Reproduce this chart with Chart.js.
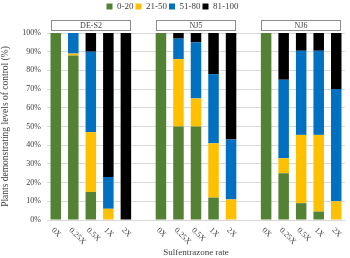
<!DOCTYPE html>
<html>
<head>
<meta charset="utf-8">
<script src="https://cdn.jsdelivr.net/npm/chart.js@4.4.1/dist/chart.umd.min.js"></script>
<style>
    html, body { margin: 0; padding: 0; background: #fff; }
    #wrap { width: 350px; height: 258px; position: relative; }
</style>
</head>
<body>
<div id="wrap"><canvas id="chart"></canvas></div>
<script>
// Data
const isolates = ['DE-S2', 'NJ5', 'NJ6'];
const rates = ['0X', '0.25X', '0.5X', '1X', '2X'];
const yTicks = [0, 10, 20, 30, 40, 50, 60, 70, 80, 90, 100];

// one row per isolate, one value per rate (% of plants)
const control0to20 = [[100, 88, 15, 0, 0], [100, 50, 50, 12, 0], [100, 25, 9, 4.5, 0]];
const control21to50 = [[0, 1, 32, 6, 0], [0, 36, 15, 29, 11], [0, 8, 36.5, 41, 10]];
const control51to80 = [[0, 11, 43, 17, 0], [0, 11, 30, 37, 32], [0, 42, 45, 45, 60]];
const control81to100 = [[0, 0, 10, 77, 100], [0, 3, 5, 22, 57], [0, 25, 9.5, 9.5, 30]];

const seriesNames = ['0-20', '21-50', '51-80', '81-100'];
const seriesColors = ['#548235', '#FFC000', '#0070C0', '#000000'];

const serif = "'Liberation Serif', 'Times New Roman', serif";
const textColor = '#404040';

// flatten panels into one category axis, with an empty slot between panels
const labels = [];
isolates.forEach((iso, p) => {
    rates.forEach((r) => labels.push(r));
    if (p < isolates.length - 1) labels.push('');
});

const flatten = (rows) => {
    const out = [];
    rows.forEach((row, p) => {
        row.forEach((v) => out.push(v));
        if (p < rows.length - 1) out.push(null);
    });
    return out;
};

const allSeries = [control0to20, control21to50, control51to80, control81to100];

const barPct = 0.6;

// leave room under the legend for the panel headers
const legendSpace = {
    id: 'legendSpace',
    beforeInit(chart) {
        const fit = chart.legend.fit;
        chart.legend.fit = function () {
            fit.call(this);
            this.height = 33;
        };
    }
};

// panel header boxes + rotated rate labels
const panelPlugin = {
    id: 'panelPlugin',
    afterDraw(chart) {
        const ctx = chart.ctx;
        const x = chart.scales.x;
        const area = chart.chartArea;
        const slot = x.getPixelForValue(1) - x.getPixelForValue(0);
        const half = slot * barPct / 2;

        ctx.save();
        ctx.font = '8px ' + serif;
        ctx.fillStyle = textColor;
        isolates.forEach((iso, p) => {
            const first = p * (rates.length + 1);
            const last = first + rates.length - 1;
            const left = Math.round(x.getPixelForValue(first) - half) + 0.5;
            const right = Math.round(x.getPixelForValue(last) + half) - 0.5;
            const top = Math.round(area.top - 13) + 0.5;
            ctx.fillStyle = '#ffffff';
            ctx.fillRect(left, top, right - left, 10);
            ctx.strokeStyle = '#8c8c8c';
            ctx.lineWidth = 1;
            ctx.strokeRect(left, top, right - left, 10);
            ctx.fillStyle = textColor;
            ctx.textAlign = 'center';
            ctx.textBaseline = 'middle';
            ctx.fillText(iso, (left + right) / 2, top + 5.5);
        });

        labels.forEach((lab, i) => {
            if (!lab) return;
            const px = x.getPixelForValue(i);
            ctx.save();
            ctx.translate(px - 3, area.bottom + 9);
            ctx.rotate(Math.PI / 4);
            ctx.textAlign = 'left';
            ctx.textBaseline = 'middle';
            ctx.fillText(lab, 0, 0);
            ctx.restore();
        });
        ctx.restore();
    }
};

new Chart(document.getElementById('chart'), {
    type: 'bar',
    data: {
        labels: labels,
        datasets: seriesNames.map((name, s) => ({
            label: name,
            data: flatten(allSeries[s]),
            backgroundColor: seriesColors[s],
            borderWidth: 0,
            barPercentage: barPct,
            categoryPercentage: 1
        }))
    },
    options: {
        responsive: true,
        maintainAspectRatio: false,
        animation: false,
        layout: { padding: { top: 0, right: 5, left: 0, bottom: 0 } },
        plugins: {
            legend: {
                position: 'top',
                labels: {
                    color: textColor,
                    font: { family: serif, size: 9 },
                    boxWidth: 6,
                    boxHeight: 6,
                    padding: 2
                }
            },
            tooltip: { enabled: false }
        },
        scales: {
            x: {
                stacked: true,
                grid: { display: false },
                border: { color: '#d9d9d9' },
                ticks: { display: false },
                title: {
                    display: true,
                    text: 'Sulfentrazone rate',
                    color: textColor,
                    font: { family: serif, size: 9 },
                    padding: { top: 0, bottom: 0 }
                },
                afterFit(scale) { scale.height = 38; }
            },
            y: {
                stacked: true,
                min: 0,
                max: 100,
                afterBuildTicks(scale) { scale.ticks = yTicks.map((v) => ({ value: v })); },
                grid: { color: '#d9d9d9', drawTicks: false },
                border: { display: false },
                ticks: {
                    color: textColor,
                    font: { family: serif, size: 8 },
                    padding: 6,
                    callback: (v) => v + '%'
                },
                title: {
                    display: true,
                    text: 'Plants demonstrating levels of control (%)',
                    color: textColor,
                    font: { family: serif, size: 9.5 },
                    padding: { top: 0, bottom: 2 }
                },
                afterFit(scale) { scale.width = 47; }
            }
        }
    },
    plugins: [legendSpace, panelPlugin]
});
</script>
</body>
</html>
